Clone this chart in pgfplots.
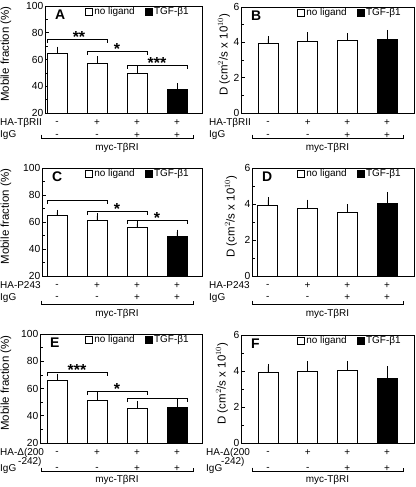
\documentclass[border=0pt]{standalone}
\usepackage{fontspec}
\setmainfont{Liberation Sans}
\usepackage{pgfplots}
\pgfplotsset{compat=1.18}

\tikzset{lab/.style={inner sep=0pt}}
\pgfplotsset{
  base/.style={
    scale only axis, ybar, bar shift=0pt, bar width=20bp, clip=false,
    xtick=\empty, ytick pos=left, tick align=inside,
    major tick length=3.5bp, minor tick length=2.5bp, minor y tick num=1,
    axis line style={line width=0.9pt},
    every tick/.style={black, line width=0.7pt},
    yticklabel style={font=\fontsize{10.3}{11}\selectfont, /pgf/number format/assume math mode=true, inner xsep=1.5bp, inner ysep=0pt},
    legend columns=2,
    legend style={at={(rel axis cs:1,1)}, anchor=north east, xshift=-12bp, yshift=-1bp,
      draw=none, fill=none, font=\fontsize{10}{12}\selectfont, inner sep=0pt,
      nodes={inner xsep=1.2bp, inner ysep=0.5bp},
      /tikz/every even column/.append style={column sep=9bp}},
    every axis y label/.style={at={(rel axis cs:0,0.55)}, rotate=90, anchor=center, font=\fontsize{11.5}{12}\selectfont},
  },
  leftp/.style={base, ymin=20, ymax=100, ytick={20,40,60,80,100}, xmax=4.625,
    ylabel={Mobile fraction (\%)}},
  rightp/.style={base, ymin=0, ymax=6, ytick={0,2,4,6}, xmax=4.68,
    ylabel={D (cm$^{2}$/s x 10$^{10}$)}},
  sqleg/.style={legend image code/.code={\draw[##1,line width=0.6pt] (0bp,-3.7bp) rectangle (7.4bp,3.7bp);}},
  wbar/.style={fill=white, draw=black, line width=0.8pt, sqleg,
    error bars/.cd, y dir=plus, y explicit,
    error bar style={black, line width=0.7pt},
    error mark options={black, line width=0.7pt, mark size=2.5bp}},
  bbar/.style={fill=black, draw=black, line width=0.8pt, sqleg,
    error bars/.cd, y dir=plus, y explicit,
    error bar style={black, line width=0.7pt},
    error mark options={black, line width=0.7pt, mark size=2.5bp}},
}

\newcommand{\signs}[3]{%
  \node[lab] at ([yshift=-#2]axis cs:1,#1) {-};
  \node[lab] at ([yshift=-#2]axis cs:2,#1) {+};
  \node[lab] at ([yshift=-#2]axis cs:3,#1) {+};
  \node[lab] at ([yshift=-#2]axis cs:4,#1) {+};
  \node[lab] at ([yshift=-#3]axis cs:1,#1) {-};
  \node[lab] at ([yshift=-#3]axis cs:2,#1) {-};
  \node[lab] at ([yshift=-#3]axis cs:3,#1) {+};
  \node[lab] at ([yshift=-#3]axis cs:4,#1) {+};
}
\newcommand{\grp}[3]{% ymin, yshift of line, yshift of label
  \draw[line width=0.6pt] ([yshift=-#2+3.5bp]axis cs:0.6,#1) -- ([yshift=-#2]axis cs:0.6,#1)
     -- ([yshift=-#2]axis cs:4.4,#1) -- ([yshift=-#2+3.5bp]axis cs:4.4,#1);
  \node[lab] at ([yshift=-#3]axis cs:2.5,#1) {myc-TβRI};
}
\newcommand{\sig}[6]{% x1 x2 y ylow xstar stars
  \draw[line width=0.6pt] (axis cs:#1,#4) -- (axis cs:#1,#3) -- (axis cs:#2,#3) -- (axis cs:#2,#4);
  \node[anchor=base, inner sep=0pt, font=\bfseries\fontsize{16}{16}\selectfont] at ([yshift=-3.5bp]axis cs:#5,#3) {#6};
}
\newcommand{\letter}[1]{%
  \node[anchor=north west, inner sep=0pt, font=\bfseries\fontsize{14}{14}\selectfont] at ([xshift=10bp,yshift=-4bp]rel axis cs:0,1) {#1};
}

\begin{document}
\begin{tikzpicture}
\useasboundingbox (0,0) rectangle (416bp,-487bp);

% ---------------- A ----------------
\begin{axis}[leftp, at={(45bp,-113bp)}, anchor=south west, width=157bp, height=107bp,
  xmin=0.7, ylabel style={yshift=39bp}]
\addplot[wbar] table[x=x, y=y, y error=e, row sep=\\] {x y e\\ 1 64.8 2.9\\ 2 56.9 3.6\\ 3 49.6 3.6\\};
\addlegendentry{no ligand}
\addplot[bbar] table[x=x, y=y, y error=e, row sep=\\] {x y e\\ 4 37.6 2.9\\};
\addlegendentry{TGF-β1}
\letter{A}
\sig{0.75}{2.25}{75.3}{72.3}{1.55}{**}
\sig{1.75}{3.25}{66.4}{63.4}{2.5}{*}
\sig{2.75}{4.25}{55.9}{52.9}{3.5}{***}
\signs{20}{10bp}{22.5bp}
\node[lab, anchor=west] at ([xshift=-45bp,yshift=-10bp]rel axis cs:0,0) {HA-TβRII};
\node[lab, anchor=west] at ([xshift=-45bp,yshift=-22.5bp]rel axis cs:0,0) {IgG};
\grp{20}{25bp}{35bp}
\end{axis}

% ---------------- B ----------------
\begin{axis}[rightp, at={(241bp,-113bp)}, anchor=south west, width=173bp, height=106bp,
  xmin=0.32, ylabel style={yshift=17bp}]
\addplot[wbar] table[x=x, y=y, y error=e, row sep=\\] {x y e\\ 1 3.93 0.26\\ 2 4.06 0.37\\ 3 4.12 0.25\\};
\addlegendentry{no ligand}
\addplot[bbar] table[x=x, y=y, y error=e, row sep=\\] {x y e\\ 4 4.17 0.39\\};
\addlegendentry{TGF-β1}
\letter{B}
\signs{0}{10bp}{22.5bp}
\node[lab, anchor=west] at ([xshift=-32bp,yshift=-10bp]rel axis cs:0,0) {HA-TβRII};
\node[lab, anchor=west] at ([xshift=-32bp,yshift=-22.5bp]rel axis cs:0,0) {IgG};
\grp{0}{25bp}{35bp}
\end{axis}

% ---------------- C ----------------
\begin{axis}[leftp, at={(42bp,-276bp)}, anchor=south west, width=160bp, height=108bp,
  xmin=0.625, ylabel style={yshift=36bp}]
\addplot[wbar] table[x=x, y=y, y error=e, row sep=\\] {x y e\\ 1 64.6 2.6\\ 2 61.4 3.2\\ 3 55.7 2.9\\};
\addlegendentry{no ligand}
\addplot[bbar] table[x=x, y=y, y error=e, row sep=\\] {x y e\\ 4 49.6 2.9\\};
\addlegendentry{TGF-β1}
\letter{C}
\sig{0.75}{2.25}{76.3}{73.3}{1.5}{}
\sig{1.75}{3.25}{68.1}{65.1}{2.5}{*}
\sig{2.75}{4.25}{61.5}{58.5}{3.5}{*}
\signs{20}{9.5bp}{22bp}
\node[lab, anchor=west] at ([xshift=-42bp,yshift=-9.5bp]rel axis cs:0,0) {HA-P243};
\node[lab, anchor=west] at ([xshift=-42bp,yshift=-22bp]rel axis cs:0,0) {IgG};
\grp{20}{28bp}{38bp}
\end{axis}

% ---------------- D ----------------
\begin{axis}[rightp, at={(252bp,-276bp)}, anchor=south west, width=162bp, height=108bp,
  xmin=0.6, ylabel style={yshift=21bp}]
\addplot[wbar] table[x=x, y=y, y error=e, row sep=\\] {x y e\\ 1 3.90 0.33\\ 2 3.73 0.38\\ 3 3.54 0.31\\};
\addlegendentry{no ligand}
\addplot[bbar] table[x=x, y=y, y error=e, row sep=\\] {x y e\\ 4 4.06 0.47\\};
\addlegendentry{TGF-β1}
\letter{D}
\signs{0}{9.5bp}{22bp}
\node[lab, anchor=west] at ([xshift=-43bp,yshift=-9.5bp]rel axis cs:0,0) {HA-P243};
\node[lab, anchor=west] at ([xshift=-43bp,yshift=-22bp]rel axis cs:0,0) {IgG};
\grp{0}{28bp}{38bp}
\end{axis}

% ---------------- E ----------------
\begin{axis}[leftp, at={(40bp,-443bp)}, anchor=south west, width=162bp, height=109bp,
  xmin=0.575, ylabel style={yshift=34bp}]
\addplot[wbar] table[x=x, y=y, y error=e, row sep=\\] {x y e\\ 1 66.1 2.9\\ 2 51.4 4.4\\ 3 45.3 3.7\\};
\addlegendentry{no ligand}
\addplot[bbar] table[x=x, y=y, y error=e, row sep=\\] {x y e\\ 4 45.8 4.9\\};
\addlegendentry{TGF-β1}
\letter{E}
\sig{0.75}{2.25}{72.1}{69.1}{1.5}{***}
\sig{1.75}{3.25}{58.2}{55.2}{2.5}{*}
\sig{2.75}{4.25}{53.0}{50.0}{3.5}{}
\node[lab] at ([yshift=-10bp]axis cs:1,20) {-};
\node[lab] at ([yshift=-10bp]axis cs:2,20) {+};
\node[lab] at ([yshift=-10bp]axis cs:3,20) {+};
\node[lab] at ([yshift=-10bp]axis cs:4,20) {+};
\node[lab] at ([yshift=-26bp]axis cs:1,20) {-};
\node[lab] at ([yshift=-26bp]axis cs:2,20) {-};
\node[lab] at ([yshift=-26bp]axis cs:3,20) {+};
\node[lab] at ([yshift=-26bp]axis cs:4,20) {+};
\node[lab, anchor=west] at ([xshift=-40bp,yshift=-10bp]rel axis cs:0,0) {HA-Δ(200};
\node[lab, anchor=west] at ([xshift=-22bp,yshift=-18.5bp]rel axis cs:0,0) {-242)};
\node[lab, anchor=west] at ([xshift=-40bp,yshift=-26bp]rel axis cs:0,0) {IgG};
\grp{20}{28bp}{36.5bp}
\end{axis}

% ---------------- F ----------------
\begin{axis}[rightp, at={(241bp,-443bp)}, anchor=south west, width=173bp, height=108bp,
  xmin=0.32, ylabel style={yshift=19bp}]
\addplot[wbar] table[x=x, y=y, y error=e, row sep=\\] {x y e\\ 1 3.92 0.34\\ 2 3.98 0.42\\ 3 4.02 0.40\\};
\addlegendentry{no ligand}
\addplot[bbar] table[x=x, y=y, y error=e, row sep=\\] {x y e\\ 4 3.60 0.53\\};
\addlegendentry{TGF-β1}
\letter{F}
\node[lab] at ([yshift=-10bp]axis cs:1,0) {-};
\node[lab] at ([yshift=-10bp]axis cs:2,0) {+};
\node[lab] at ([yshift=-10bp]axis cs:3,0) {+};
\node[lab] at ([yshift=-10bp]axis cs:4,0) {+};
\node[lab] at ([yshift=-26bp]axis cs:1,0) {-};
\node[lab] at ([yshift=-26bp]axis cs:2,0) {-};
\node[lab] at ([yshift=-26bp]axis cs:3,0) {+};
\node[lab] at ([yshift=-26bp]axis cs:4,0) {+};
\node[lab, anchor=west] at ([xshift=-35bp,yshift=-10bp]rel axis cs:0,0) {HA-Δ(200};
\node[lab, anchor=west] at ([xshift=-20bp,yshift=-18.5bp]rel axis cs:0,0) {-242)};
\node[lab, anchor=west] at ([xshift=-35bp,yshift=-26bp]rel axis cs:0,0) {IgG};
\grp{0}{28bp}{36.5bp}
\end{axis}
\end{tikzpicture}
\end{document}
